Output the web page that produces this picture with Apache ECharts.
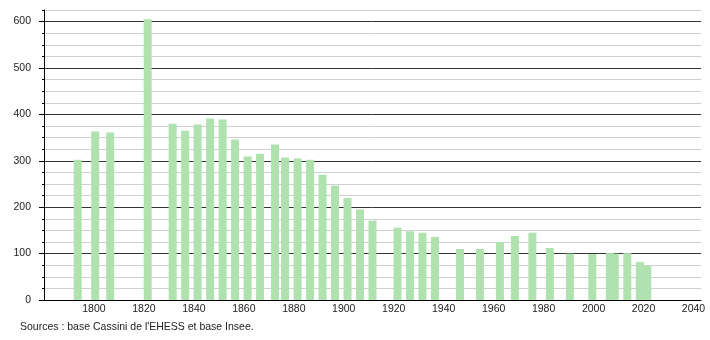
<!DOCTYPE html>
<html>
<head>
<meta charset="utf-8">
<script src="https://cdn.jsdelivr.net/npm/echarts@6/dist/echarts.min.js"></script>
<style>
html,body{margin:0;padding:0;background:#fff;}
#chart{width:710px;height:340px;}
</style>
</head>
<body>
<div id="chart"></div>
<script>
// Census years and population
const years = [1793, 1800, 1806, 1821, 1831, 1836, 1841, 1846, 1851, 1856, 1861, 1866, 1872, 1876, 1881, 1886, 1891, 1896, 1901, 1906, 1911, 1921, 1926, 1931, 1936, 1946, 1954, 1962, 1968, 1975, 1982, 1990, 1999, 2006, 2008, 2013, 2018, 2021];
const population = [302, 363, 361, 605, 380, 365, 378, 391, 389, 346, 309, 315, 335, 307, 305, 302, 270, 246, 220, 195, 171, 156, 148, 145, 136, 110, 110, 125, 138, 145, 112, 100, 99, 101, 100, 101, 82, 74];
const yMajorTicks = [0, 100, 200, 300, 400, 500, 600];
const xTickLabels = [1800, 1820, 1840, 1860, 1880, 1900, 1920, 1940, 1960, 1980, 2000, 2020, 2040];
const sourceText = "Sources : base Cassini de l'EHESS et base Insee.";

const font = 'Liberation Sans, Arial, sans-serif';
const chart = echarts.init(document.getElementById('chart'), null, {renderer: 'canvas'});
chart.setOption({
  animation: false,
  backgroundColor: '#ffffff',
  grid: {left: 44, right: 9, top: 10, bottom: 40, containLabel: false},
  xAxis: [
    {
      type: 'value',
      min: 1780,
      max: 2043,
      interval: 20,
      axisLine: {show: true, lineStyle: {color: '#000', width: 1}},
      axisTick: {show: false},
      splitLine: {show: false},
      axisLabel: {
        show: true,
        color: '#222',
        fontFamily: font,
        fontSize: 10.5,
        margin: 4,
        customValues: xTickLabels,
        formatter: v => String(v)
      }
    },
    {
      // bar placement scale (bars sit a half year right of the ticks, as in the original)
      type: 'value',
      position: 'bottom',
      min: 1779.5,
      max: 2042.5,
      show: false
    }
  ],
  yAxis: [
    {
      type: 'value',
      min: 0,
      max: 625,
      interval: 25,
      position: 'left',
      axisLine: {show: true, lineStyle: {color: '#000', width: 1}},
      axisTick: {show: true, length: 2, lineStyle: {color: '#000'}},
      splitLine: {show: true, lineStyle: {color: ['#333', '#cfcfcf', '#cfcfcf', '#cfcfcf'], width: 1}},
      axisLabel: {
        show: true,
        color: '#222',
        fontFamily: font,
        fontSize: 10.5,
        margin: 13,
        customValues: yMajorTicks,
        formatter: v => String(v)
      }
    },
    {
      type: 'value',
      min: 0,
      max: 625,
      position: 'left',
      offset: 0,
      axisLine: {show: false},
      axisTick: {show: true, length: 5, customValues: yMajorTicks, lineStyle: {color: '#000'}},
      axisLabel: {show: false},
      splitLine: {show: false}
    }
  ],
  series: [{
    type: 'bar',
    xAxisIndex: 1,
    yAxisIndex: 0,
    barWidth: 8,
    itemStyle: {color: '#afe2af'},
    data: years.map((y, i) => [y, population[i]]),
    z: 3
  }],
  graphic: [{
    type: 'text',
    left: 20,
    top: 322,
    style: {text: sourceText, fill: '#222', font: '10.5px ' + font}
  }]
});
</script>
</body>
</html>
